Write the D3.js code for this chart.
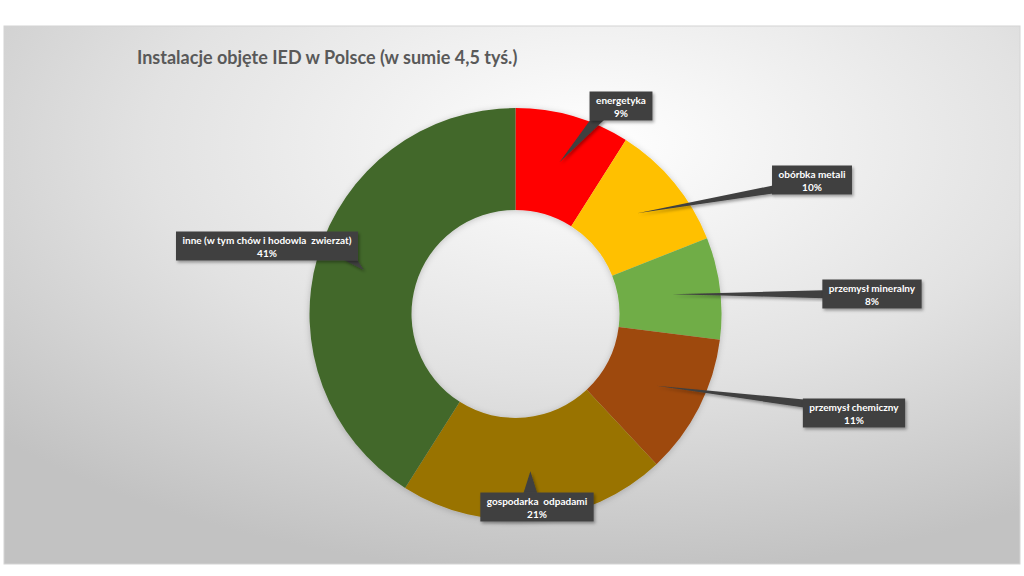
<!DOCTYPE html>
<html>
<head>
<meta charset="utf-8">
<script src="https://cdn.jsdelivr.net/npm/d3@7"></script>
<style>
  body { margin: 0; background: #fff; }
  svg text { font-family: Lato, "Open Sans", sans-serif; }
</style>
</head>
<body>
<div id="chart"></div>
<script>
// data
var categories = ['energetyka', 'obórbka metali', 'przemysł mineralny', 'przemysł chemiczny',
                  'gospodarka  odpadami', 'inne (w tym chów i hodowla  zwierzat)'];
var shares = [9, 10, 8, 11, 21, 41];
var colours = ['#ff0000', '#ffc000', '#70ad47', '#9e480e', '#997300', '#43682b'];
// where the data callouts were dragged to (box centres)
var labelCentres = [[621, 106], [812, 180], [872, 294], [854, 413], [537, 507], [267, 246]];

var width = 1024, height = 576,
    cx = 515.5, cy = 314,
    outerR = 206, innerR = 104, tipR = 158;

var svg = d3.select('#chart').append('svg')
    .attr('width', width)
    .attr('height', height);

var defs = svg.append('defs');
var grad = defs.append('radialGradient')
    .attr('id', 'bg')
    .attr('cx', '58%').attr('cy', '22%').attr('r', '80%');
grad.append('stop').attr('offset', '0%').attr('stop-color', '#ffffff');
grad.append('stop').attr('offset', '55%').attr('stop-color', '#e2e2e2');
grad.append('stop').attr('offset', '100%').attr('stop-color', '#c2c2c2');

var shadow = defs.append('filter').attr('id', 'shadow')
    .attr('x', '-20%').attr('y', '-20%').attr('width', '140%').attr('height', '160%');
shadow.append('feDropShadow')
    .attr('dx', 1.5).attr('dy', 2).attr('stdDeviation', 1.5)
    .attr('flood-color', '#000').attr('flood-opacity', 0.35);

var softShadow = defs.append('filter').attr('id', 'soft')
    .attr('x', '-10%').attr('y', '-10%').attr('width', '120%').attr('height', '120%');
softShadow.append('feDropShadow')
    .attr('dx', 0).attr('dy', 1).attr('stdDeviation', 3)
    .attr('flood-color', '#000').attr('flood-opacity', 0.2);

// chart area
svg.append('rect')
    .attr('x', 4).attr('y', 26)
    .attr('width', 1016).attr('height', 538)
    .style('fill', 'url(#bg)')
    .style('stroke', '#d4d4d4')
    .style('stroke-width', 1);

svg.append('text')
    .attr('x', 137).attr('y', 64)
    .style('font-size', '18px')
    .style('font-weight', 'bold')
    .style('fill', '#595959')
    .text('Instalacje objęte IED w Polsce (w sumie 4,5 tyś.)');

var slices = categories.map(function (c, i) {
    return { name: c, value: shares[i], colour: colours[i], box: labelCentres[i] };
});

var pie = d3.pie()
    .sort(null)
    .value(function (d) { return d.value; });

var arc = d3.arc().innerRadius(innerR).outerRadius(outerR);
var tipArc = d3.arc().innerRadius(tipR).outerRadius(tipR);

var arcs = pie(slices);

var g = svg.append('g').attr('transform', 'translate(' + cx + ',' + cy + ')');

g.append('g')
    .attr('filter', 'url(#soft)')
    .selectAll('path')
    .data(arcs)
    .enter().append('path')
        .attr('d', arc)
        .style('fill', function (d) { return d.data.colour; });

// callouts
var total = d3.sum(shares);
var fmt = function (v) { return Math.round(v / total * 100) + '%'; };

var callouts = svg.append('g');

arcs.forEach(function (d) {
    var c = tipArc.centroid(d);
    var tip = [cx + c[0], cy + c[1]];
    var box = d.data.box;

    var grp = callouts.append('g');
    var wedge = grp.append('path');
    var rect = grp.append('rect');
    var t1 = grp.append('text')
        .attr('x', box[0]).attr('y', box[1] - 2.5)
        .attr('text-anchor', 'middle')
        .style('font-size', '10px').style('font-weight', 'bold')
        .style('fill', '#fff')
        .style('white-space', 'pre')
        .text(d.data.name);
    grp.append('text')
        .attr('x', box[0]).attr('y', box[1] + 10.5)
        .attr('text-anchor', 'middle')
        .style('font-size', '10px').style('font-weight', 'bold')
        .style('fill', '#fff')
        .text(fmt(d.data.value));

    var w = t1.node().getComputedTextLength() + 13,
        h = 29;
    var x0 = box[0] - w / 2, x1 = box[0] + w / 2,
        y0 = box[1] - h / 2, y1 = box[1] + h / 2;

    rect.attr('x', x0).attr('y', y0)
        .attr('width', w).attr('height', h)
        .attr('filter', 'url(#shadow)')
        .style('fill', '#404040');

    // which side of the box the wedge leaves from
    var nx = (tip[0] - box[0]) / (w / 2), ny = (tip[1] - box[1]) / (h / 2);
    var a, b, half;
    if (Math.abs(nx) > Math.abs(ny)) {
        half = 4;
        var ex = nx < 0 ? x0 + 1 : x1 - 1;
        var yb = Math.max(y0 + half + 1, Math.min(y1 - half - 1, tip[1]));
        a = [ex, yb - half]; b = [ex, yb + half];
    } else {
        half = 7;
        var ey = ny < 0 ? y0 + 1 : y1 - 1;
        var xb = Math.max(x0 + half + 1, Math.min(x1 - half - 1, tip[0]));
        a = [xb - half, ey]; b = [xb + half, ey];
    }
    wedge.attr('d', 'M' + tip + 'L' + a + 'L' + b + 'Z')
        .attr('filter', 'url(#shadow)')
        .style('fill', '#404040');
});
</script>
</body>
</html>
